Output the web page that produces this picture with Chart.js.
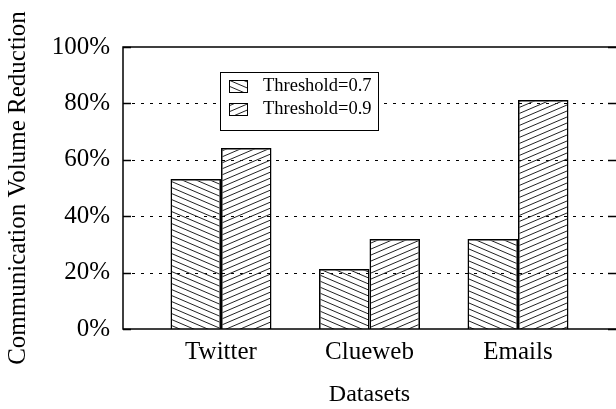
<!DOCTYPE html>
<html>
<head>
<meta charset="utf-8">
<script src="https://cdn.jsdelivr.net/npm/chart.js@4"></script>
<style>
  body { margin: 0; background: #fff; }
</style>
</head>
<body>
<canvas id="monGraphe" width="616" height="409"></canvas>
<script>
// donnees
var categories = ["Twitter", "Clueweb", "Emails"];
var seuil07 = [53.2, 21.3, 31.9];
var seuil09 = [64.2, 31.9, 81.2];
var legendes = ["Threshold=0.7", "Threshold=0.9"];
var yTicks = [0, 20, 40, 60, 80, 100];

var ctx = document.getElementById("monGraphe");
var c2d = ctx.getContext("2d");

function hachure(sens) {
  var c = document.createElement("canvas");
  c.width = 14; c.height = 6;
  var g = c.getContext("2d");
  g.strokeStyle = "#222";
  g.lineWidth = 1;
  [-6, 0, 6].forEach(function (off) {
    g.beginPath();
    if (sens > 0) { g.moveTo(0, off); g.lineTo(14, off + 6); }
    else { g.moveTo(0, off + 6); g.lineTo(14, off); }
    g.stroke();
  });
  return c2d.createPattern(c, "repeat");
}

var motif1 = hachure(1);
var motif2 = hachure(-1);

function points(vals) {
  return vals.map(function (v, i) { return { x: i, y: v }; });
}

var cadre = {
  id: "cadre",
  beforeDatasetsDraw: function (chart) {
    var a = chart.chartArea, y = chart.scales.y, g = chart.ctx;
    g.save();
    g.strokeStyle = "#000";
    g.lineWidth = 1;
    g.setLineDash([3, 6]);
    yTicks.forEach(function (t) {
      if (t === 0 || t === 100) return;
      var py = Math.round(y.getPixelForValue(t)) + 0.5;
      g.beginPath(); g.moveTo(a.left, py); g.lineTo(a.right, py); g.stroke();
    });
    g.restore();
  },
  afterDatasetsDraw: function (chart) {
    var a = chart.chartArea, y = chart.scales.y, g = chart.ctx;
    g.save();
    g.strokeStyle = "#000";
    g.lineWidth = 1.5;
    g.strokeRect(a.left, a.top, a.right - a.left + 2, a.bottom - a.top);
    yTicks.forEach(function (t) {
      var py = Math.round(y.getPixelForValue(t)) + 0.5;
      g.beginPath();
      g.moveTo(a.left, py); g.lineTo(a.left + 8, py);
      g.moveTo(a.right, py); g.lineTo(a.right - 8, py);
      g.stroke();
    });
    g.restore();
  },
  afterDraw: function (chart) {
    var g = chart.ctx;
    g.save();
    g.fillStyle = "#fff";
    g.fillRect(220, 72, 158, 58);
    g.strokeStyle = "#000";
    g.lineWidth = 1;
    g.strokeRect(220.5, 72.5, 158, 58);
    var motifs = [motif1, motif2];
    g.font = "18.5px 'Liberation Serif'";
    g.textBaseline = "middle";
    for (var i = 0; i < 2; i++) {
      var yy = 80 + i * 23;
      g.fillStyle = motifs[i];
      g.fillRect(229, yy, 18, 12);
      g.strokeRect(229.5, yy + 0.5, 18, 12);
      g.fillStyle = "#000";
      g.fillText(legendes[i], 263, yy + 6.5);
    }
    g.restore();
  }
};

var chart = new Chart(ctx, {
  type: "bar",
  data: {
    datasets: [{
      label: legendes[0],
      data: points(seuil07),
      backgroundColor: motif1,
      borderColor: "#000",
      borderWidth: 1.5
    }, {
      label: legendes[1],
      data: points(seuil09),
      backgroundColor: motif2,
      borderColor: "#000",
      borderWidth: 1.5
    }]
  },
  options: {
    responsive: false,
    animation: false,
    layout: { padding: { top: 47, left: 0, right: 0, bottom: 0 } },
    datasets: { bar: { categoryPercentage: 0.68, barPercentage: 1 } },
    plugins: { legend: { display: false }, tooltip: { enabled: false } },
    scales: {
      x: {
        type: "linear",
        offset: false,
        min: -0.66,
        max: 2.66,
        afterBuildTicks: function (s) { s.ticks = categories.map(function (c, i) { return { value: i }; }); },
        afterFit: function (s) { s.height = 80; },
        grid: { display: false, drawTicks: false, offset: false },
        border: { display: false },
        ticks: {
          padding: 8,
          color: "#000",
          font: { family: "'Liberation Serif'", size: 25 },
          callback: function (v) { return categories[v]; }
        },
        title: {
          display: true,
          text: "Datasets",
          color: "#000",
          padding: { top: 0, bottom: 0 },
          font: { family: "'Liberation Serif'", size: 24 }
        }
      },
      y: {
        min: 0,
        max: 100,
        afterBuildTicks: function (s) { s.ticks = yTicks.map(function (v) { return { value: v }; }); },
        afterFit: function (s) { s.width = 123; },
        grid: { display: false, drawTicks: false },
        border: { display: false },
        ticks: {
          padding: 13,
          color: "#000",
          font: { family: "'Liberation Serif'", size: 25 },
          callback: function (v) { return v + "%"; }
        },
        title: {
          display: true,
          text: "Communication Volume Reduction",
          color: "#000",
          padding: { top: 3, bottom: 0 },
          font: { family: "'Liberation Serif'", size: 25 }
        }
      }
    }
  },
  plugins: [cadre]
});
</script>
</body>
</html>
